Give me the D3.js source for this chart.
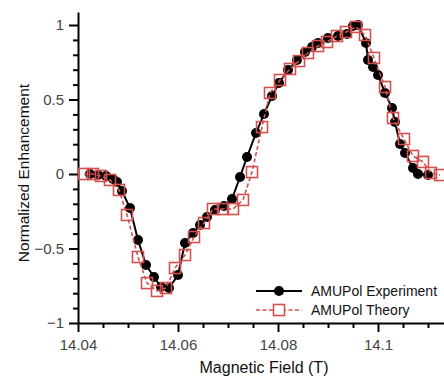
<!DOCTYPE html>
<html>
<head>
<meta charset="utf-8">
<script src="https://cdn.jsdelivr.net/npm/d3@7"></script>
<style>
  body { margin: 0; background: #fff; }
  svg { display: block; }
  text { font-family: "Liberation Sans", Arial, sans-serif; }
</style>
</head>
<body>
<div id="chart"></div>
<script>
const expField = [14.0424, 14.0440, 14.0456, 14.0470, 14.0478, 14.0488, 14.0504, 14.0520, 14.0536, 14.0552,
  14.0566, 14.0582, 14.0600, 14.0614, 14.0630, 14.0644, 14.0658, 14.0674, 14.0692, 14.0708,
  14.0724, 14.0738, 14.0756, 14.0772, 14.0788, 14.0802, 14.0820, 14.0838, 14.0854, 14.0868,
  14.0880, 14.0900, 14.0920, 14.0938, 14.0950, 14.0960, 14.0976, 14.0980, 14.0990, 14.1000,
  14.1014, 14.1028, 14.1034, 14.1044, 14.1054, 14.1070, 14.1080, 14.1100];
const expValues = [0, -0.007, -0.013, -0.034, -0.054, -0.114, -0.228, -0.443, -0.611, -0.691,
  -0.758, -0.765, -0.678, -0.463, -0.396, -0.342, -0.289, -0.242, -0.215, -0.168,
  -0.020, 0.114, 0.275, 0.403, 0.523, 0.611, 0.698, 0.765, 0.819, 0.852,
  0.879, 0.913, 0.926, 0.940, 0.993, 1.000, 0.879, 0.765, 0.718, 0.664,
  0.544, 0.443, 0.349, 0.201, 0.141, 0.040, 0.000, -0.007];

const theoryField = [14.0412, 14.0430, 14.0446, 14.0464, 14.0482, 14.0498, 14.0520, 14.0538, 14.0558, 14.0576,
  14.0594, 14.0614, 14.0632, 14.0652, 14.0670, 14.0690, 14.0710, 14.0730, 14.0748, 14.0768,
  14.0784, 14.0804, 14.0824, 14.0842, 14.0860, 14.0880, 14.0898, 14.0918, 14.0936, 14.0956,
  14.0974, 14.0992, 14.1014, 14.1030, 14.1052, 14.1070, 14.1090, 14.1106, 14.1124];
const theoryValues = [0, 0, -0.013, -0.040, -0.107, -0.275, -0.557, -0.732, -0.785, -0.765,
  -0.631, -0.544, -0.423, -0.329, -0.235, -0.235, -0.235, -0.174, 0.013, 0.315,
  0.544, 0.631, 0.705, 0.758, 0.812, 0.859, 0.886, 0.926, 0.953, 0.987,
  0.933, 0.779, 0.584, 0.376, 0.235, 0.121, 0.081, 0.007, -0.007];

const xTicks = [14.04, 14.06, 14.08, 14.1];
const yTicks = [-1, -0.5, 0, 0.5, 1];
const legendLabels = ['AMUPol Experiment', 'AMUPol Theory'];

const RED = '#d4504f';

const margin = {top: 12, right: 0, bottom: 55, left: 78};
const width = 444 - margin.left - margin.right;
const height = 378 - margin.top - margin.bottom;

const svg = d3.select('#chart')
  .append('svg')
  .attr('width', 444)
  .attr('height', 378)
  .append('g')
  .attr('transform', 'translate(' + margin.left + ',' + margin.top + ')');

const x = d3.scaleLinear()
  .domain([14.04, 14.04 + width / 5000])
  .range([0, width]);

const y = d3.scaleLinear()
  .domain([-1, 1 + 13 / 149])
  .range([height, 0]);

// minor ticks
const xMinor = d3.range(14.04, 14.1135, 0.005).filter(v => !xTicks.some(t => Math.abs(t - v) < 1e-6));
const yMinor = d3.range(-1, 1.05, 0.1).filter(v => !yTicks.some(t => Math.abs(t - v) < 1e-6));

svg.append('g')
  .attr('transform', 'translate(0,' + height + ')')
  .call(d3.axisBottom(x).tickValues(xMinor).tickSize(5).tickFormat(''))
  .call(g => g.select('.domain').remove())
  .call(g => g.selectAll('line').attr('stroke-width', 2));

svg.append('g')
  .call(d3.axisLeft(y).tickValues(yMinor).tickSize(5).tickFormat(''))
  .call(g => g.select('.domain').remove())
  .call(g => g.selectAll('line').attr('stroke-width', 2));

const xAxis = svg.append('g')
  .attr('transform', 'translate(0,' + height + ')')
  .call(d3.axisBottom(x).tickValues(xTicks).tickSize(9).tickSizeOuter(0).tickPadding(7)
    .tickFormat(d => d3.format('~g')(d)));

const yAxis = svg.append('g')
  .call(d3.axisLeft(y).tickValues(yTicks).tickSize(9).tickSizeOuter(0).tickPadding(5)
    .tickFormat(d => d === 0 ? '0' : d3.format('~g')(d).replace('-', '\u2212')));

[xAxis, yAxis].forEach(a => {
  a.select('.domain').attr('stroke-width', 2);
  a.selectAll('line').attr('stroke-width', 2);
  a.selectAll('text').attr('font-size', 15).attr('fill', '#444')
    .attr('font-family', '"Liberation Sans", Arial, sans-serif');
});

// axis titles
svg.append('text')
  .attr('x', 264 - margin.left)
  .attr('y', height + 50)
  .attr('text-anchor', 'middle')
  .attr('font-size', 16)
  .attr('fill', '#111')
  .text('Magnetic Field (T)');

svg.append('text')
  .attr('transform', 'translate(' + (29 - margin.left) + ',' + (173 - margin.top) + ') rotate(-90)')
  .attr('text-anchor', 'middle')
  .attr('font-size', 15.5)
  .attr('fill', '#111')
  .text('Normalized Enhancement');

const expData = expField.map((f, i) => [f, expValues[i]]);
const theoryData = theoryField.map((f, i) => [f, theoryValues[i]]);

const line = d3.line()
  .x(d => x(d[0]))
  .y(d => y(d[1]));

// experiment
svg.append('path')
  .datum(expData)
  .attr('fill', 'none')
  .attr('stroke', '#000')
  .attr('stroke-width', 2)
  .attr('d', line);

svg.selectAll('.exp')
  .data(expData)
  .enter().append('circle')
  .attr('class', 'exp')
  .attr('cx', d => x(d[0]))
  .attr('cy', d => y(d[1]))
  .attr('r', 5)
  .attr('fill', '#000');

// theory
svg.append('path')
  .datum(theoryData)
  .attr('fill', 'none')
  .attr('stroke', RED)
  .attr('stroke-width', 1.6)
  .attr('stroke-dasharray', '4,2.5')
  .attr('d', line);

svg.selectAll('.theory')
  .data(theoryData)
  .enter().append('rect')
  .attr('class', 'theory')
  .attr('x', d => x(d[0]) - 5.5)
  .attr('y', d => y(d[1]) - 5.5)
  .attr('width', 11)
  .attr('height', 11)
  .attr('fill', 'none')
  .attr('stroke', RED)
  .attr('stroke-width', 1.6);

// legend
const legend = svg.append('g')
  .attr('transform', 'translate(' + (256 - margin.left) + ',' + (291 - margin.top) + ')');

const expItem = legend.append('g');
expItem.append('line')
  .attr('x1', 0).attr('x2', 46).attr('y1', 0).attr('y2', 0)
  .attr('stroke', '#000').attr('stroke-width', 2);
expItem.append('circle')
  .attr('cx', 23).attr('cy', 0).attr('r', 5).attr('fill', '#000');
expItem.append('text')
  .attr('x', 55).attr('y', 5)
  .attr('font-size', 14).attr('fill', '#111')
  .text(legendLabels[0]);

const thItem = legend.append('g').attr('transform', 'translate(0,19)');
thItem.append('line')
  .attr('x1', 0).attr('x2', 46).attr('y1', 0).attr('y2', 0)
  .attr('stroke', RED).attr('stroke-width', 1.6).attr('stroke-dasharray', '4,2.5');
thItem.append('rect')
  .attr('x', 23 - 5.5).attr('y', -5.5).attr('width', 11).attr('height', 11)
  .attr('fill', '#fff').attr('stroke', RED).attr('stroke-width', 1.6);
thItem.append('text')
  .attr('x', 55).attr('y', 5)
  .attr('font-size', 14).attr('fill', '#111')
  .text(legendLabels[1]);
</script>
</body>
</html>
